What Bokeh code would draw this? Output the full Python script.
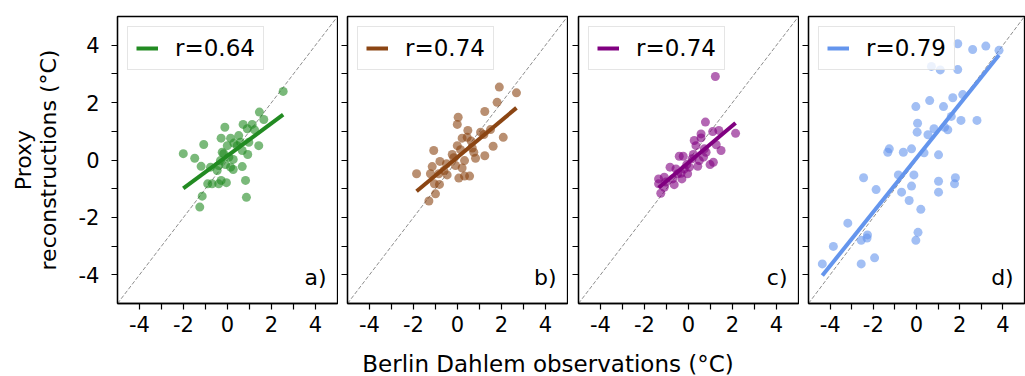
import numpy as np
from bokeh.plotting import figure
from bokeh.layouts import row, column
from bokeh.models import Range1d, FixedTicker, Label, CustomJSTickFormatter
from bokeh.embed import file_html
from bokeh.resources import INLINE

# ---------------- data ----------------
a_obs = [2.53, 1.45, 1.65, -0.12, 0.71, 1.12, 0.90, 1.23, -0.29, 0.14, 0.51, -1.08, -0.01, 0.44,
         0.97, 1.42, -2.01, -1.49, -0.17, 0.67, 0.92, -1.20, -0.32, -0.09, 0.26, 0.26, 0.67, -0.47,
         -0.77, -0.90, -0.70, -0.40, -0.05, -0.29, 0.82, -1.15, -1.26, 0.86, 0.29, 0.06, -0.40, 0.14,
         0.59, -0.24]
a_proxy = [2.39, 1.67, 1.41, 1.14, 1.24, 1.24, 1.09, 1.05, 0.76, 0.76, 0.85, 0.54, 0.50, 0.50,
           0.62, 0.50, 0.22, 0.06, 0.22, 0.33, 0.19, -0.22, -0.02, -0.16, 0.02, -0.33, -0.23, -0.37,
           -0.25, -0.83, -0.83, -0.83, -0.79, -0.71, -0.71, -1.26, -1.64, -1.30, 0.59, 0.10, -0.19,
           -0.25, 0.62, 0.27]

b_obs = [1.90, 2.68, 1.80, 1.24, 0.03, -0.01, 0.47, 2.08, 0.21, 0.44, 1.05, 1.50, 1.62, 1.24,
         -1.08, -0.01, 0.67, 0.82, -0.80, -0.24, 0.32, -0.50, -1.15, -1.86, -0.85, -0.47, 0.21,
         -1.05, -0.82, 0.06, 0.32, 0.55, -1.00, -1.30, -0.17, -0.62, 0.74, 1.20, 0.14, 0.62,
         -1.23, -0.09]
b_proxy = [2.54, 2.34, 2.01, 1.69, 1.49, 1.24, 1.03, 0.79, 0.76, 0.79, 0.97, 1.06, 0.48, 0.15,
           0.33, 0.50, 0.42, 0.06, -0.05, 0.19, -0.02, -0.13, -0.23, -0.48, -0.48, -0.52, -0.28,
           -0.83, -0.85, -0.63, -0.56, -0.56, -1.18, -1.43, 0.08, -0.37, 0.27, 0.89, 0.36, 0.66,
           -0.48, -0.19]

c_obs = [1.22, 0.77, 2.14, 1.10, 1.38, 0.57, 0.57, 1.26, 1.48, 0.34, 0.72, -0.42, -0.24, 0.22,
         0.68, 1.13, 0.98, -0.84, -0.57, -0.08, 0.42, 0.49, -0.34, -0.04, -1.10, -1.36, -0.72,
         -0.30, -1.36, -0.65, -1.10, -1.26, -0.19, 0.16, 0.26, -1.03, -0.49, 0.04, 0.80]
c_proxy = [2.91, 1.32, 0.93, 0.99, 1.03, 0.91, 0.77, 0.53, 0.33, 0.50, 0.39, 0.13, 0.13, 0.19,
           0.10, -0.08, -0.16, -0.25, -0.31, -0.16, -0.22, -0.02, -0.46, -0.48, -0.60, -0.66,
           -0.66, -0.66, -0.83, -0.86, -0.95, -1.16, -0.31, 0.04, 0.68, -0.77, -0.48, -0.25, 0.27]

d_obs = [1.91, 2.60, 3.21, 0.69, 1.10, 1.91, 0.61, 1.68, 2.14, 1.25, -0.03, 1.61, 2.06, 2.80,
         0.05, 0.03, 0.81, 1.30, 1.45, 0.53, -1.26, -1.33, -0.61, -0.23, 0.35, 1.02, -2.45, -0.84,
         -0.12, 1.80, 1.76, 1.02, -1.87, -0.69, -0.23, 1.02, -0.34, 0.20, -3.18, -2.27, -2.56,
         -2.29, 0.07, -0.03, -3.85, -1.94, -2.56, -4.36, 3.82]
d_proxy = [4.05, 3.85, 3.97, 3.26, 3.14, 3.15, 2.07, 2.17, 2.28, 1.86, 1.86, 1.52, 1.38, 1.38,
           1.28, 0.97, 1.09, 1.14, 1.05, 0.88, 0.39, 0.27, 0.27, 0.39, 0.25, 0.18, -0.62, -0.52,
           -0.52, -0.62, -0.83, -0.74, -1.03, -1.12, -0.91, -1.12, -1.41, -1.72, -2.20, -2.61,
           -2.80, -2.72, -2.52, -2.80, -3.01, -3.41, -3.62, -3.62, 3.82]

panel_labels = ["a)", "b)", "c)", "d)"]
r_values = [0.64, 0.74, 0.74, 0.79]
fit_slopes = [0.565, 0.64, 0.646, 0.94]
fit_intercepts = [0.15, 0.10, -0.09, 0.07]
colors = ["forestgreen", "saddlebrown", "purple", "cornflowerblue"]
major_ticks = [-4, -2, 0, 2, 4]
minor_ticks = [-3, -1, 1, 3]
ylabel = "Proxy\nreconstructions (°C)"
xlabel = "Berlin Dahlem observations (°C)"

FONT = "DejaVu Sans"

obs_all = [a_obs, b_obs, c_obs, d_obs]
proxy_all = [a_proxy, b_proxy, c_proxy, d_proxy]

left_borders = [117, 9, 10, 9]
frame_widths = [220, 220, 220, 216]

hyphen_fmt = "return String(tick);"
blank_fmt = "return '';"

figs = []
for i in range(4):
    p = figure(frame_width=frame_widths[i], frame_height=287,
               min_border_left=left_borders[i], min_border_right=1,
               min_border_top=16, min_border_bottom=40,
               x_range=Range1d(-5, 5), y_range=Range1d(-5, 5),
               output_backend="svg", toolbar_location=None)
    p.grid.visible = False
    p.outline_line_color = "black"
    p.outline_line_width = 1.3
    p.background_fill_color = "white"
    p.border_fill_color = "white"

    for ax in (p.xaxis[0], p.yaxis[0]):
        ax.ticker = FixedTicker(ticks=major_ticks, minor_ticks=minor_ticks)
        ax.formatter = CustomJSTickFormatter(code=hyphen_fmt)
        ax.axis_line_color = "black"
        ax.axis_line_width = 1.3
        ax.major_tick_out = 6
        ax.major_tick_in = 0
        ax.minor_tick_out = 6
        ax.minor_tick_in = 0
        ax.major_tick_line_width = 1.2
        ax.minor_tick_line_width = 1.2
        ax.major_tick_line_color = "black"
        ax.minor_tick_line_color = "black"
        ax.major_label_text_font = FONT
        ax.major_label_text_font_size = "21px"
        ax.major_label_text_color = "black"
    p.xaxis.major_label_standoff = 6
    if i == 0:
        p.yaxis.major_label_standoff = 12
        p.yaxis.axis_label = ylabel
        p.yaxis.axis_label_text_font = FONT
        p.yaxis.axis_label_text_font_size = "22px"
        p.yaxis.axis_label_text_font_style = "normal"
        p.yaxis.axis_label_text_color = "black"
        p.yaxis.axis_label_text_line_height = 1.0
        p.yaxis.axis_label_standoff = 15
    else:
        p.yaxis.formatter = CustomJSTickFormatter(code=blank_fmt)
        p.yaxis.major_label_standoff = 0

    # 1:1 line
    p.line([-5, 5], [-5, 5], line_color="gray", line_width=0.9, line_dash="4 2")

    xs = obs_all[i]
    ys = proxy_all[i]
    p.scatter(xs, ys, size=9, fill_color=colors[i], fill_alpha=0.6, line_alpha=0)

    fx = np.array([min(xs), max(xs)])
    fy = fit_slopes[i] * fx + fit_intercepts[i]
    p.line(fx, fy, line_color=colors[i], line_width=4,
           legend_label="r=%.2f" % r_values[i])

    lg = p.legend[0]
    lg.location = "top_left"
    lg.label_text_font = FONT
    lg.label_text_font_size = "23px"
    lg.label_text_color = "black"
    lg.glyph_width = 22
    lg.label_standoff = 17
    lg.padding = 8
    lg.margin = 10
    lg.border_line_color = "#cccccc"
    lg.border_line_width = 1.2
    lg.background_fill_alpha = 0.8

    p.add_layout(Label(x=4.5, y=-4.1, text=panel_labels[i], text_align="right",
                       text_baseline="middle", text_font=FONT, text_font_size="22px",
                       text_color="black"))
    figs.append(p)

total_w = sum(left_borders) + sum(frame_widths) + 4
lab_h = 376 - (16 + 287 + 40)
lab = figure(width=total_w, height=lab_h, x_range=Range1d(0, total_w), y_range=Range1d(0, lab_h),
             min_border=0, output_backend="svg", toolbar_location=None,
             x_axis_location=None, y_axis_location=None)
lab.grid.visible = False
lab.outline_line_color = None
lab.add_layout(Label(x=547.5, y=13, text=xlabel, text_align="center",
                     text_baseline="middle", text_font=FONT,
                     text_font_size="23px", text_color="black"))

layout = column(row(*figs, spacing=0), lab, spacing=0)
open("out.html", "w").write(file_html(layout, INLINE))
